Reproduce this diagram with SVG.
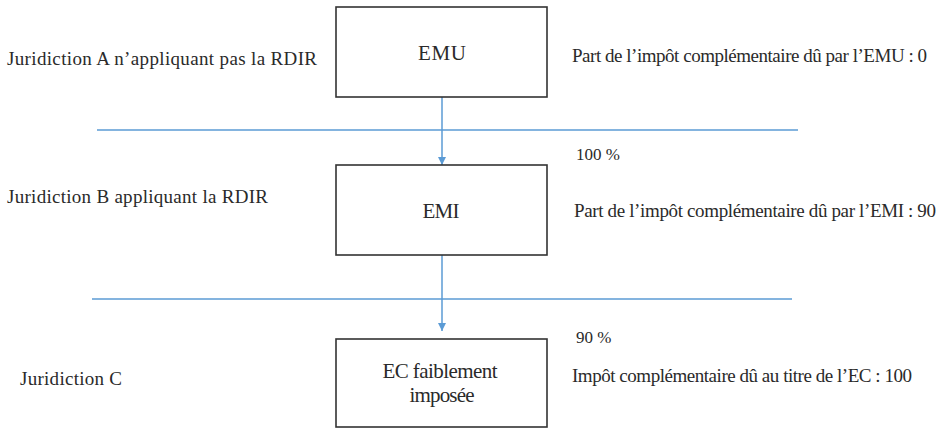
<svg xmlns="http://www.w3.org/2000/svg" width="944" height="429" viewBox="0 0 944 429" font-family="'Liberation Serif', 'Times New Roman', 'DejaVu Serif', serif">
<defs>
<style>
text{font-size:19px;fill:#2a2a2a}
.big{font-size:21px}
.sm{font-size:17px}
.box{fill:#fff;stroke:#333;stroke-width:1.6}
.conn{stroke:#5b9bd5;stroke-width:1.5;fill:none}
.c{text-anchor:middle}
</style>
<marker id="arr" viewBox="0 0 10 10" refX="10" refY="5" markerWidth="8" markerHeight="8" markerUnits="userSpaceOnUse" orient="auto"><path d="M0,0L10,5L0,10z" fill="#5b9bd5"/></marker>
</defs>
<rect width="944" height="429" fill="#fff"/>
<g id="connectors">
<line class="conn" x1="97" y1="130" x2="798" y2="130"/>
<line class="conn" x1="92" y1="299" x2="792" y2="299"/>
<line class="conn" x1="442" y1="97" x2="442" y2="165" marker-end="url(#arr)"/>
<line class="conn" x1="442" y1="255" x2="442" y2="331" marker-end="url(#arr)"/>
</g>
<g id="emu"><rect class="box" x="336" y="7" width="211" height="90"/><text class="c big" x="442" y="60" textLength="48">EMU</text></g>
<g id="emi"><rect class="box" x="336" y="165" width="211" height="90"/><text class="c big" x="441" y="218" textLength="37">EMI</text></g>
<g id="ec"><rect class="box" x="336" y="339" width="211" height="88"/><text class="c big" x="440" y="378" textLength="115">EC faiblement</text><text class="c big" x="442" y="402" textLength="65">imposée</text></g>
<g id="labels">
<text x="7" y="65" textLength="310">Juridiction A n’appliquant pas la RDIR</text>
<text x="7" y="203" textLength="261">Juridiction B appliquant la RDIR</text>
<text x="20" y="385" textLength="102">Juridiction C</text>
<text x="572" y="62" textLength="355">Part de l’impôt complémentaire dû par l’EMU : 0</text>
<text class="sm" x="576" y="160">100 %</text>
<text x="574" y="217" textLength="362">Part de l’impôt complémentaire dû par l’EMI : 90</text>
<text class="sm" x="576" y="343">90 %</text>
<text x="572" y="382" textLength="340">Impôt complémentaire dû au titre de l’EC : 100</text>
</g>
</svg>
